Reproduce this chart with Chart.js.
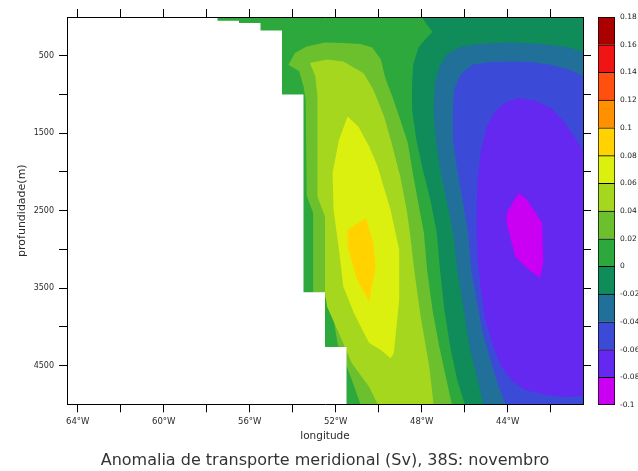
<!DOCTYPE html>
<html>
<head>
<meta charset="utf-8">
<script src="https://cdn.jsdelivr.net/npm/chart.js@4.4.1/dist/chart.umd.min.js"></script>
<style>
  html, body { margin: 0; padding: 0; background: #ffffff; }
  #wrap { position: relative; width: 638px; height: 471px; overflow: hidden; }
  #main { position: absolute; left: 0; top: 0; }
  #cbar { position: absolute; left: 590px; top: 0; }
</style>
</head>
<body>
<div id="wrap">
  <canvas id="main" width="638" height="471"></canvas>
  <canvas id="cbar" width="48" height="471"></canvas>
</div>
<script>
// ---------- DATA (longitude in degrees, negative = West; depth in metres) ----------
const lonTicks = [-64, -62, -60, -58, -56, -54, -52, -50, -48, -46, -44, -42];
const depthTicks = [500, 1000, 1500, 2000, 2500, 3000, 3500, 4000, 4500];
const levels = [-0.1, -0.08, -0.06, -0.04, -0.02, 0, 0.02, 0.04, 0.06, 0.08, 0.1, 0.12, 0.14, 0.16, 0.18];
const levelColors = ['#c900f2', '#6428f0', '#3c4bd7', '#21709a', '#0f8c5a', '#2ca83c',
                     '#6cc02e', '#a5d71e', '#dcf00f', '#ffd200', '#ff9000', '#ff5010', '#f01414', '#aa0000'];

// whole section (filled with the 0..0.02 class)
const domainBox = [[-64.5, 0], [-40.5, 0], [-40.5, 5000], [-64.5, 5000]];
// region >= 0.02
const contourPos02 = [[-54.2,615],[-53.9,465],[-53.35,380],[-52.5,330],[-51.65,335],[-50.85,350],[-50.3,395],[-49.9,550],
  [-49.7,785],[-49.35,1040],[-49.0,1325],[-48.65,1625],[-48.4,2040],[-48.1,2490],[-47.9,2785],[-47.75,3265],[-47.5,3780],
  [-47.2,4235],[-46.9,4620],[-46.6,5000],[-50.85,5000],[-51.2,4725],[-51.55,4465],[-51.9,4235],[-52.1,3910],[-52.2,3650],
  [-53.05,3560],[-53.05,2530],[-53.35,2310],[-53.4,1070],[-53.5,895],[-53.7,700]];
// region >= 0.04
const contourPos04 = [[-53.2,595],[-52.4,550],[-51.65,575],[-50.7,725],[-50.25,940],[-49.75,1285],[-49.4,1630],[-49.0,2060],
  [-48.7,2490],[-48.55,2785],[-48.35,3265],[-48.05,3870],[-47.65,4515],[-47.45,5000],[-50.05,5000],[-50.45,4775],[-51.25,4470],
  [-51.85,4085],[-52.4,3740],[-52.5,3560],[-52.5,2575],[-52.85,2320],[-52.85,1715],[-52.85,1025],[-52.95,765]];
// region >= 0.06
const contourPos06 = [[-51.45,1285],[-50.95,1415],[-50.45,1670],[-50.05,1930],[-49.45,2490],[-49.05,3005],[-49.05,3650],
  [-49.3,4340],[-49.45,4405],[-49.9,4300],[-50.45,4210],[-51.15,3825],[-51.65,3480],[-51.85,3005],[-52.1,2490],[-52.15,2015],[-51.85,1585]];
// region >= 0.08
const contourPos08 = [[-50.6,2595],[-50.25,2920],[-50.15,3220],[-50.45,3675],[-51.0,3395],[-51.45,2965],[-51.45,2750]];
// region < 0
const contourNeg00 = [[-48.0,0],[-40.5,0],[-40.5,5000],[-46.0,5000],[-46.35,4685],[-46.65,4300],[-46.95,3780],[-47.15,3265],
  [-47.3,2785],[-47.6,2360],[-47.95,1975],[-48.25,1585],[-48.45,1200],[-48.45,875],[-48.4,615],[-48.15,395],[-47.85,295],
  [-47.5,190],[-47.75,100]];
// region < -0.02
const contourNeg02 = [[-45.15,5000],[-45.4,4685],[-45.75,4300],[-46.05,3780],[-46.35,3265],[-46.55,2785],[-46.85,2360],
  [-47.15,1975],[-47.35,1585],[-47.45,1200],[-47.4,875],[-47.2,655],[-46.85,485],[-46.2,385],[-45.25,345],[-43.85,330],
  [-42.5,345],[-41.3,385],[-40.5,450],[-40.5,5000]];
// region < -0.04
const contourNeg04 = [[-44.1,5000],[-44.45,4750],[-44.8,4430],[-45.2,4040],[-45.45,3650],[-45.7,3265],[-45.85,2785],
  [-46.1,2360],[-46.35,1975],[-46.55,1585],[-46.55,1200],[-46.5,940],[-46.2,745],[-45.65,615],[-44.8,580],[-43.85,575],
  [-42.95,580],[-42.0,615],[-41.1,680],[-40.5,760],[-40.5,5000]];
// region < -0.06
const contourNeg06 = [[-43.5,1045],[-42.7,1080],[-42.0,1170],[-41.45,1325],[-40.9,1545],[-40.5,1715],[-40.5,4895],[-41.3,4905],
  [-42.25,4880],[-43.2,4815],[-43.85,4685],[-44.35,4490],[-44.7,4235],[-45.05,3910],[-45.25,3525],[-45.4,3135],[-45.45,2785],
  [-45.45,2490],[-45.4,2100],[-45.25,1715],[-44.95,1390],[-44.55,1210],[-44.1,1105]];
// region < -0.08
const contourNeg08 = [[-43.5,2275],[-43.1,2360],[-42.4,2660],[-42.35,3180],[-42.5,3370],[-43.0,3265],[-43.65,3095],[-44.05,2660],[-44.05,2530]];
// no data (continental slope / land)
const landMask = [[-64.5,0],[-57.5,0],[-57.5,50],[-56.5,50],[-56.5,77],[-55.5,77],[-55.5,173],[-54.5,173],[-54.5,1000],
  [-53.5,1000],[-53.5,3555],[-52.5,3555],[-52.5,4260],[-51.5,4260],[-51.5,5000],[-64.5,5000]];

const titleText = 'Anomalia de transporte meridional (Sv), 38S: novembro';

// ---------- CHART ----------
Chart.defaults.font.family = "'DejaVu Sans', sans-serif";
Chart.defaults.color = '#2a2a2a';

const layers = [
  { pts: domainBox, color: levelColors[5] },
  { pts: contourPos02, color: levelColors[6] },
  { pts: contourPos04, color: levelColors[7] },
  { pts: contourPos06, color: levelColors[8] },
  { pts: contourPos08, color: levelColors[9] },
  { pts: contourNeg00, color: levelColors[4] },
  { pts: contourNeg02, color: levelColors[3] },
  { pts: contourNeg04, color: levelColors[2] },
  { pts: contourNeg06, color: levelColors[1] },
  { pts: contourNeg08, color: levelColors[0] },
  { pts: landMask, color: '#ffffff' }
];

const datasets = layers.map((l, i) => ({
  data: l.pts.concat([l.pts[0]]).map(([x, y]) => ({ x, y })),
  backgroundColor: l.color,
  borderColor: 'rgba(0,0,0,0)',
  borderWidth: 0,
  pointRadius: 0,
  pointHoverRadius: 0,
  tension: 0,
  fill: 'shape',
  order: layers.length - i
}));

const tickGrid = { drawOnChartArea: false, drawTicks: true, tickLength: 8, color: '#000', lineWidth: 1 };
const frame = { display: true, color: '#000', width: 1, z: 2 };

new Chart(document.getElementById('main'), {
  type: 'line',
  data: { datasets },
  options: {
    responsive: false,
    animation: false,
    events: [],
    layout: { padding: 0 },
    plugins: {
      legend: { display: false },
      tooltip: { enabled: false },
      title: {
        display: true, position: 'bottom', text: titleText, fullSize: false,
        font: { size: 16, weight: 'normal' }, color: '#333',
        padding: { top: 0, bottom: 1 }
      }
    },
    scales: {
      x: {
        type: 'linear', position: 'bottom', min: -64.5, max: -40.5,
        afterBuildTicks: s => { s.ticks = lonTicks.map(v => ({ value: v })); },
        ticks: { autoSkip: false, maxRotation: 0, padding: 4, font: { size: 8.5 },
                 callback: v => (v % 4 === 0 ? (-v) + '°W' : '') },
        grid: tickGrid, border: frame,
        title: { display: true, text: 'longitude', font: { size: 10.5 }, padding: { top: 0, bottom: 8 } },
        afterFit: s => { s.height = 46.5; }
      },
      x2: {
        type: 'linear', position: 'top', min: -64.5, max: -40.5,
        afterBuildTicks: s => { s.ticks = lonTicks.map(v => ({ value: v })); },
        ticks: { display: false }, grid: tickGrid, border: frame,
        afterFit: s => { s.height = 17; }
      },
      y: {
        type: 'linear', position: 'left', reverse: true, min: 0, max: 5000,
        afterBuildTicks: s => { s.ticks = depthTicks.map(v => ({ value: v })); },
        ticks: { autoSkip: false, padding: 5, font: { size: 8 },
                 callback: v => (v % 1000 === 500 ? String(v) : '') },
        grid: tickGrid, border: frame,
        title: { display: true, text: 'profundidade(m)', font: { size: 11 }, padding: { top: 16, bottom: 0 } },
        afterFit: s => { s.width = 67; }
      },
      y2: {
        type: 'linear', position: 'right', reverse: true, min: 0, max: 5000,
        afterBuildTicks: s => { s.ticks = depthTicks.map(v => ({ value: v })); },
        ticks: { display: false }, grid: tickGrid, border: frame,
        afterFit: s => { s.width = 55; }
      }
    }
  }
});

// ---------- COLOUR BAR ----------
const barSets = levelColors.map((c, i) => ({
  data: [[levels[i], levels[i + 1]]],
  backgroundColor: c,
  borderColor: '#000',
  borderWidth: i === 0 ? 1 : { top: 1, left: 1, right: 1, bottom: 0 },
  borderSkipped: false,
  barPercentage: 1,
  categoryPercentage: 1,
  grouped: false
}));

new Chart(document.getElementById('cbar'), {
  type: 'bar',
  data: { labels: ['Sv'], datasets: barSets },
  options: {
    responsive: false,
    animation: false,
    events: [],
    layout: { padding: { left: 8, top: 17, bottom: 66, right: 0 } },
    plugins: { legend: { display: false }, tooltip: { enabled: false } },
    scales: {
      x: { display: false },
      y: {
        position: 'right', min: -0.1, max: 0.18,
        afterBuildTicks: s => { s.ticks = levels.map(v => ({ value: v })); },
        ticks: { padding: 5, font: { size: 7.5 }, color: '#222',
                 callback: v => String(Number(v.toFixed(2))) },
        grid: { display: false, drawTicks: false, tickLength: 0 },
        border: { display: false },
        afterFit: s => { s.width = 23; }
      }
    }
  }
});
</script>
</body>
</html>
